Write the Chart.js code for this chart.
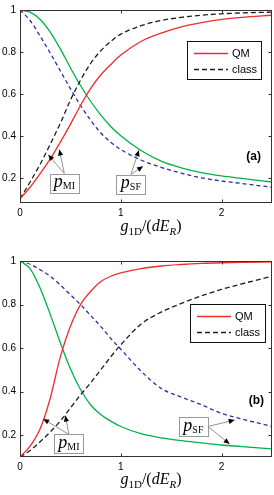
<!DOCTYPE html>
<html>
<head>
<meta charset="utf-8">
<script src="https://cdn.jsdelivr.net/npm/chart.js@4.4.1/dist/chart.umd.min.js"></script>
<style>
  html, body { margin: 0; padding: 0; background: #fff; }
  .wrap { position: absolute; left: 0; width: 274px; }
  #wrapA { top: 0; height: 246px; }
  #wrapB { top: 248px; height: 247px; }
</style>
</head>
<body>
<div class="wrap" id="wrapA"><canvas id="chartA"></canvas></div>
<div class="wrap" id="wrapB"><canvas id="chartB"></canvas></div>
<script>
// x = g1D/(dE_R), shared sampling for every curve
const gValues = [0, 0.1, 0.2, 0.3, 0.4, 0.5, 0.6, 0.7, 0.8, 0.9, 1.0, 1.2, 1.4, 1.6, 1.8, 2.0, 2.2, 2.5]

// panel (a)
const aMiQM    = [0.1, 0.155, 0.22, 0.29, 0.37, 0.455, 0.545, 0.625, 0.69, 0.74, 0.785, 0.85, 0.89, 0.92, 0.94, 0.955, 0.965, 0.975]
const aMiClass = [0.1, 0.18, 0.265, 0.36, 0.46, 0.57, 0.665, 0.745, 0.805, 0.85, 0.885, 0.925, 0.95, 0.965, 0.975, 0.982, 0.986, 0.99]
const aSfQM    = [1, 0.99, 0.955, 0.895, 0.815, 0.725, 0.64, 0.565, 0.5, 0.445, 0.4, 0.33, 0.28, 0.248, 0.225, 0.209, 0.197, 0.18]
const aSfClass = [1, 0.95, 0.875, 0.795, 0.71, 0.625, 0.545, 0.475, 0.415, 0.37, 0.335, 0.285, 0.25, 0.222, 0.2, 0.185, 0.173, 0.155]

// panel (b)
const bMiQM    = [0.1, 0.15, 0.23, 0.37, 0.56, 0.7, 0.8, 0.86, 0.905, 0.93, 0.945, 0.965, 0.977, 0.984, 0.989, 0.992, 0.994, 0.996]
const bMiClass = [0.1, 0.13, 0.17, 0.215, 0.265, 0.325, 0.385, 0.44, 0.5, 0.56, 0.615, 0.71, 0.765, 0.805, 0.84, 0.87, 0.895, 0.93]
const bSfQM    = [1, 0.965, 0.875, 0.755, 0.625, 0.505, 0.41, 0.34, 0.295, 0.265, 0.24, 0.207, 0.188, 0.175, 0.165, 0.155, 0.148, 0.137]
const bSfClass = [1, 0.985, 0.96, 0.93, 0.89, 0.845, 0.8, 0.75, 0.7, 0.645, 0.595, 0.495, 0.415, 0.375, 0.34, 0.3, 0.275, 0.24]

const xTicks = [0, 1, 2]
const yTicks = [0.2, 0.4, 0.6, 0.8, 1]
const legendLabels = ['QM', 'class']

const RED = 'rgb(238,45,45)'
const GREEN = 'rgb(0,178,70)'
const BLUE = 'rgb(45,45,165)'
const BLACK = 'rgb(30,30,30)'
const SERIF = '"Liberation Serif", "DejaVu Serif", serif'
const SANS = '"Liberation Sans", Arial, sans-serif'

function pts(ys) {
    return gValues.map((g, i) => ({ x: g, y: ys[i] }))
}

function line(label, ys, color, dash) {
    return {
        label: label,
        data: pts(ys),
        borderColor: color,
        borderWidth: 1.3,
        borderDash: dash || [],
        pointRadius: 0,
        fill: false,
        cubicInterpolationMode: 'monotone'
    }
}

// draws a run of text pieces (math-ish: italics, subscripts)
function drawParts(ctx, parts, x, y, align) {
    let w = 0
    parts.forEach(p => { ctx.font = p.f; w += ctx.measureText(p.t).width })
    let cx = align === 'center' ? x - w / 2 : x
    ctx.textBaseline = 'alphabetic'
    ctx.textAlign = 'left'
    parts.forEach(p => {
        ctx.font = p.f
        ctx.fillText(p.t, cx, y + (p.dy || 0))
        cx += ctx.measureText(p.t).width
    })
    return w
}

function arrow(ctx, x0, y0, x1, y1) {
    ctx.strokeStyle = '#777'
    ctx.lineWidth = 0.8
    ctx.beginPath()
    ctx.moveTo(x0, y0)
    ctx.lineTo(x1, y1)
    ctx.stroke()
    const ang = Math.atan2(y1 - y0, x1 - x0)
    const len = 6, half = 2.6
    ctx.fillStyle = '#000'
    ctx.beginPath()
    ctx.moveTo(x1, y1)
    ctx.lineTo(x1 - len * Math.cos(ang) + half * Math.sin(ang), y1 - len * Math.sin(ang) - half * Math.cos(ang))
    ctx.lineTo(x1 - len * Math.cos(ang) - half * Math.sin(ang), y1 - len * Math.sin(ang) + half * Math.cos(ang))
    ctx.closePath()
    ctx.fill()
}

const framePlugin = {
    id: 'frame',
    afterDraw(chart, args, opts) {
        const { ctx, chartArea: a, scales: { x, y } } = chart
        ctx.save()

        // box and inward ticks
        ctx.strokeStyle = '#333'
        ctx.lineWidth = 1
        const L = Math.round(a.left) + 0.5, R = Math.round(a.right) - 0.5
        const T = Math.round(a.top) + 0.5, B = Math.round(a.bottom) - 0.5
        ctx.strokeRect(L, T, R - L, B - T)
        ctx.beginPath()
        x.ticks.forEach(t => {
            const px = Math.round(x.getPixelForValue(t.value)) + 0.5
            ctx.moveTo(px, B); ctx.lineTo(px, B - 3)
            ctx.moveTo(px, T); ctx.lineTo(px, T + 3)
        })
        y.ticks.forEach(t => {
            const py = Math.round(y.getPixelForValue(t.value)) + 0.5
            ctx.moveTo(L, py); ctx.lineTo(L + 3, py)
            ctx.moveTo(R, py); ctx.lineTo(R - 3, py)
        })
        ctx.stroke()

        // x axis title
        ctx.fillStyle = '#000'
        drawParts(ctx, [
            { t: 'g', f: 'italic 16px ' + SERIF },
            { t: '1D', f: '11px ' + SERIF, dy: 4 },
            { t: '/(', f: '16px ' + SERIF },
            { t: 'dE', f: 'italic 16px ' + SERIF },
            { t: 'R', f: 'italic 11px ' + SERIF, dy: 4 },
            { t: ')', f: '16px ' + SERIF }
        ], (a.left + a.right) / 2 + 5, a.bottom + opts.titleOffset, 'center')

        // panel letter
        ctx.font = 'bold 12px ' + SANS
        ctx.textAlign = 'right'
        ctx.textBaseline = 'middle'
        ctx.fillText(opts.panel, a.right - opts.panelDx, y.getPixelForValue(opts.panelY))

        // legend
        const lg = opts.legend
        const lx = a.right - lg.right - lg.w, ly = a.top + lg.top
        ctx.fillStyle = '#fff'
        ctx.fillRect(lx, ly, lg.w, lg.h)
        ctx.strokeStyle = '#111'
        ctx.lineWidth = 1
        ctx.strokeRect(Math.round(lx) + 0.5, Math.round(ly) + 0.5, lg.w, lg.h)
        const styles = [{ c: RED, d: [] }, { c: BLACK, d: [5, 3] }]
        legendLabels.forEach((lab, i) => {
            const yy = ly + 12.5 + i * 16
            ctx.strokeStyle = styles[i].c
            ctx.lineWidth = 1.3
            ctx.setLineDash(styles[i].d)
            ctx.beginPath()
            ctx.moveTo(lx + 7, yy); ctx.lineTo(lx + 41, yy)
            ctx.stroke()
            ctx.setLineDash([])
            ctx.fillStyle = '#000'
            ctx.font = '11px ' + SANS
            ctx.textAlign = 'left'
            ctx.textBaseline = 'middle'
            ctx.fillText(lab, lx + 45, yy + 0.5)
        })

        // labelled arrows
        opts.notes.forEach(n => {
            const cx = x.getPixelForValue(n.at[0]), cy = y.getPixelForValue(n.at[1])
            const bw = 29, bh = 19
            const bx = cx - bw / 2, by = cy - bh / 2
            n.tips.forEach(tp => {
                const sx = n.from === 'right' ? bx + bw : cx
                const sy = n.from === 'right' ? cy : by
                arrow(ctx, sx, sy, x.getPixelForValue(tp[0]), y.getPixelForValue(tp[1]))
            })
            ctx.fillStyle = '#fff'
            ctx.fillRect(bx, by, bw, bh)
            ctx.strokeStyle = '#999'
            ctx.lineWidth = 1
            ctx.strokeRect(Math.round(bx) + 0.5, Math.round(by) + 0.5, bw, bh)
            ctx.fillStyle = '#000'
            drawParts(ctx, [
                { t: 'p', f: 'italic 18px ' + SERIF },
                { t: n.sub, f: '10px ' + SERIF, dy: 2 }
            ], cx, cy + 4, 'center')
        })

        ctx.restore()
    }
}

function buildChart(canvasId, series, yMin, frameOpts, padTop, xHeight) {
    const config = {
        type: 'line',
        data: {
            datasets: [
                line('QM', series[0], RED),
                line('class', series[1], BLACK, [5, 3]),
                line('QM SF', series[2], GREEN),
                line('class SF', series[3], BLUE, [4, 3])
            ]
        },
        options: {
            responsive: true,
            maintainAspectRatio: false,
            animation: false,
            layout: { padding: { top: padTop, right: 2, left: 0, bottom: 0 } },
            plugins: {
                legend: { display: false },
                tooltip: { enabled: false },
                frame: frameOpts
            },
            scales: {
                x: {
                    type: 'linear',
                    min: 0,
                    max: 2.5,
                    grid: { display: false, drawTicks: false },
                    border: { display: false },
                    afterBuildTicks: s => { s.ticks = xTicks.map(v => ({ value: v })) },
                    afterFit: s => { s.height = xHeight },
                    ticks: {
                        padding: 4,
                        color: '#000',
                        font: { family: SANS, size: 10 },
                        maxRotation: 0,
                        callback: v => String(v)
                    }
                },
                y: {
                    type: 'linear',
                    min: yMin,
                    max: 1,
                    grid: { display: false, drawTicks: false },
                    border: { display: false },
                    afterBuildTicks: s => { s.ticks = yTicks.map(v => ({ value: v })) },
                    afterFit: s => { s.width = 20 },
                    ticks: {
                        padding: 4,
                        color: '#000',
                        font: { family: SANS, size: 10 },
                        callback: v => String(+v.toFixed(2))
                    }
                }
            }
        },
        plugins: [framePlugin]
    }
    return new Chart(document.getElementById(canvasId), config)
}

buildChart('chartA', [aMiQM, aMiClass, aSfQM, aSfClass], 0.08, {
    panel: '(a)', panelDx: 11, panelY: 0.3, titleOffset: 28,
    legend: { right: 11, top: 31, w: 74, h: 38 },
    notes: [
        { sub: 'MI', at: [0.44, 0.175], from: 'top', tips: [[0.28, 0.31], [0.39, 0.335]] },
        { sub: 'SF', at: [1.1, 0.17], from: 'top', tips: [[1.18, 0.332], [1.22, 0.255]] }
    ]
}, 4, 43)

buildChart('chartB', [bMiQM, bMiClass, bSfQM, bSfClass], 0.1, {
    panel: '(b)', panelDx: 8, panelY: 0.36, titleOffset: 27,
    legend: { right: 7, top: 43, w: 75, h: 38 },
    notes: [
        { sub: 'MI', at: [0.485, 0.16], from: 'top', tips: [[0.23, 0.275], [0.45, 0.29]] },
        { sub: 'SF', at: [1.72, 0.24], from: 'right', tips: [[2.13, 0.27], [2.08, 0.16]] }
    ]
}, 13, 38)
</script>
</body>
</html>
